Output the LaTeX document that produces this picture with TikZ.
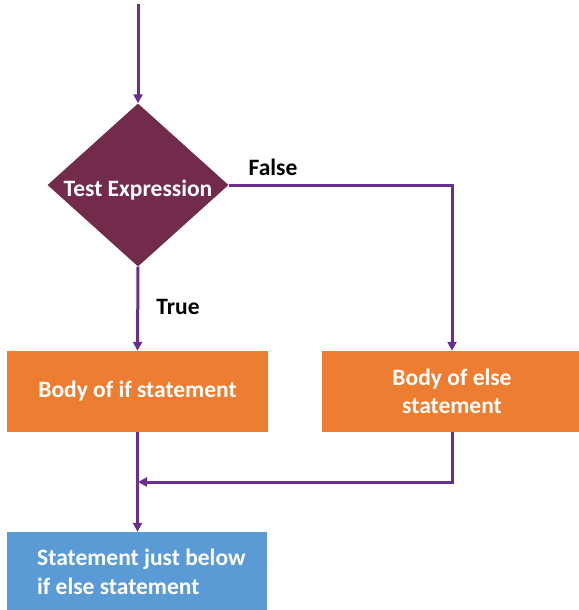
\documentclass[tikz,border=0pt]{standalone}
\usepackage{fontspec}
\setmainfont{Carlito}
\usetikzlibrary{shapes.geometric,arrows.meta}
\definecolor{maroonfill}{HTML}{722B4A}
\definecolor{orng}{HTML}{ED7D31}
\definecolor{blu}{HTML}{5B9BD5}
\definecolor{purp}{HTML}{6A2E8E}
\begin{document}
\begin{tikzpicture}[x=1pt,y=1pt,
  every node/.style={font=\fontsize{23.5}{28}\selectfont\bfseries},
  decision/.style={diamond, fill=maroonfill, text=white, inner sep=0pt,
    minimum width=181pt, minimum height=163pt},
  procbox/.style={rectangle, fill=orng, text=white, inner sep=0pt, align=center},
  endbox/.style={rectangle, fill=blu, text=white, inner sep=0pt},
  flow/.style={draw=purp, line width=3pt, -{Triangle[length=9pt,width=9pt]}},
  lbl/.style={text=black}]
\useasboundingbox (0,0) rectangle (578,-610);
\coordinate (start) at (138,-4);
\node[decision] (test) at (138,-185) {\raisebox{-11pt}[0pt][0pt]{Test Expression}};
\node[procbox, minimum width=261pt, minimum height=81pt] (ifb) at (137.5,-391.5) {Body of if statement};
\node[procbox, minimum width=260pt, minimum height=81pt] (elseb) at (452,-391.5) {Body of else\\statement};
\node[endbox, minimum width=260pt, minimum height=83pt] (after) at (137,-573.5) {};
\node[endbox, anchor=west, align=left, font=\fontsize{23.5}{29}\selectfont\bfseries] (aftertext) at (37,-572) {Statement just below\\if else statement};
\coordinate (merge) at (138,-482);
\node[lbl] (false) at (273,-167) {False};
\node[lbl] (true) at (178,-307) {True};
\draw[flow] (start) -- (test.north);
\draw[flow] (test.east) -| (elseb.north);
\draw[flow] (test.south) -- (ifb.north);
\draw[flow] (ifb.south) -- (after.north -| ifb.south);
\draw[flow] (elseb.south) |- (merge);
\end{tikzpicture}
\end{document}
